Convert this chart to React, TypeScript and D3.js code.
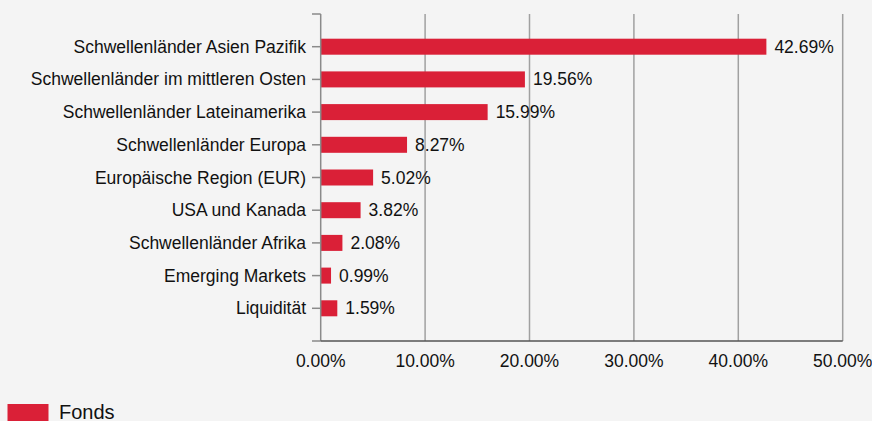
import React from "react";
import * as d3 from "d3";

const categories = [
  "Schwellenländer Asien Pazifik",
  "Schwellenländer im mittleren Osten",
  "Schwellenländer Lateinamerika",
  "Schwellenländer Europa",
  "Europäische Region (EUR)",
  "USA und Kanada",
  "Schwellenländer Afrika",
  "Emerging Markets",
  "Liquidität",
];
const values = [42.69, 19.56, 15.99, 8.27, 5.02, 3.82, 2.08, 0.99, 1.59];
const xTicks = [0, 10, 20, 30, 40, 50];
const seriesName = "Fonds";

const W = 872;
const H = 421;
const FONT = "'Liberation Sans', Arial, sans-serif";
const RED = "#da2037";
const FS = 17.5;

export default function App() {
  const left = 320.7;
  const right = 842.7;
  const top = 14;
  const bottom = 341;
  const x = d3.scaleLinear().domain([0, 50]).range([left, right]);
  const y = d3.scalePoint<string>().domain(categories).range([top, bottom]).padding(1);
  const barH = 16;

  return (
    <div style={{ position: "fixed", left: 0, top: 0, width: W, height: H, background: "#f4f4f4", overflow: "hidden" }}>
      <svg width={W} height={H} style={{ display: "block", fontFamily: FONT }}>
        <rect x={0} y={0} width={W} height={H} fill="#f4f4f4" />
        {xTicks.slice(1).map((t) => (
          <line key={t} x1={x(t)} x2={x(t)} y1={top} y2={bottom} stroke="#a0a0a0" strokeWidth={1.5} />
        ))}
        {categories.map((c, i) => {
          const cy = y(c)!;
          return (
            <g key={c}>
              <rect x={x(0)} y={cy - barH / 2} width={x(values[i]) - x(0)} height={barH} fill={RED} />
              <line x1={312} x2={left} y1={cy} y2={cy} stroke="#8a8a8a" strokeWidth={1.5} />
              <text x={306} y={cy} textAnchor="end" dominantBaseline="central" fontSize={FS} fill="#111">
                {c}
              </text>
              <text x={x(values[i]) + 8} y={cy} dominantBaseline="central" fontSize={FS} fill="#111">
                {values[i].toFixed(2)}%
              </text>
            </g>
          );
        })}
        <line x1={312} x2={left} y1={top} y2={top} stroke="#8a8a8a" strokeWidth={1.5} />
        <line x1={312} x2={left} y1={bottom} y2={bottom} stroke="#8a8a8a" strokeWidth={1.5} />
        <line x1={left} x2={left} y1={top} y2={bottom} stroke="#8a8a8a" strokeWidth={1.5} />
        <line x1={left} x2={right} y1={bottom} y2={bottom} stroke="#555" strokeWidth={1.5} />
        {xTicks.map((t) => (
          <text key={t} x={x(t)} y={361} textAnchor="middle" dominantBaseline="central" fontSize={FS} fill="#111">
            {t.toFixed(2)}%
          </text>
        ))}
        <rect x={7.5} y={404} width={41} height={20} fill={RED} />
        <text x={59} y={419.3} fontSize={20} fill="#111">{seriesName}</text>
      </svg>
    </div>
  );
}
